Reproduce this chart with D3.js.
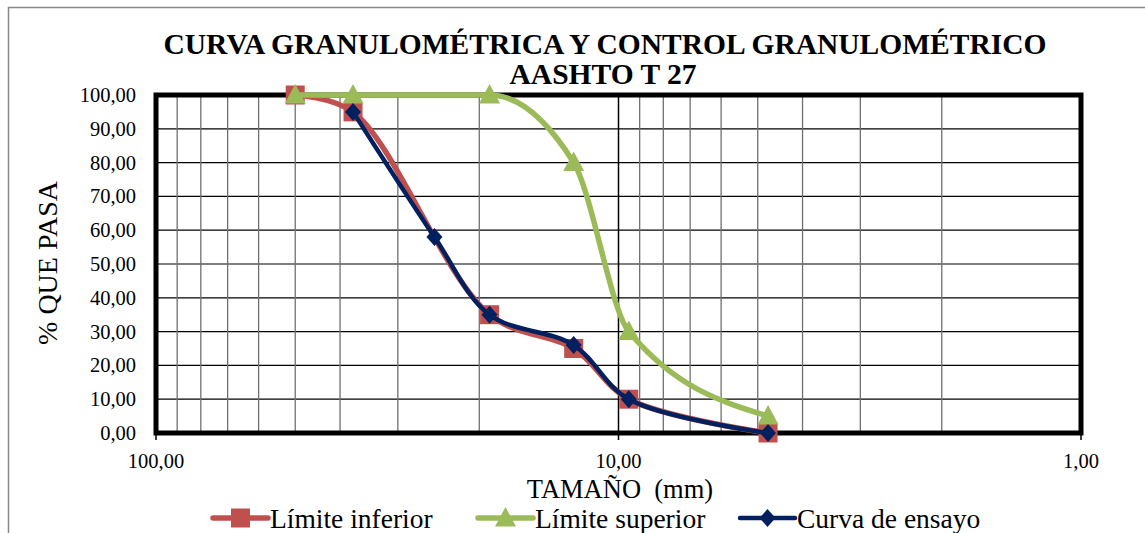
<!DOCTYPE html>
<html>
<head>
<meta charset="utf-8">
<script src="https://cdn.jsdelivr.net/npm/d3@7"></script>
<style>
  body { margin: 0; background: #fff; }
</style>
</head>
<body>
<svg id="s" width="1145" height="533"></svg>
<script>
// Data
const sizes = [50, 37.5, 25, 19, 12.5, 9.5, 4.75],
  limInferior = [100, 95, null, 35, 25, 10, 0],
  limSuperior = [100, 100, null, 100, 80, 30, 5],
  curvaEnsayo = [null, 95, 58, 35, 26, 10, 0],
  yTicks = [0, 10, 20, 30, 40, 50, 60, 70, 80, 90, 100],
  xMajor = [100, 10, 1],
  xMinor = [90, 80, 70, 60, 50, 40, 30, 20, 9, 8, 7, 6, 5, 4, 3, 2];

const FONT = "'Liberation Serif', serif";

const svg = d3.select("#s").attr("font-family", FONT),
  plot = { left: 156, right: 1081, top: 95, bottom: 433 },
  x = d3.scaleLog().domain([100, 1]).range([plot.left, plot.right]),
  y = d3.scaleLinear().domain([0, 100]).range([plot.bottom, plot.top]),
  fmt = v => d3.format(".2f")(v).replace(".", ",");

const txt = sel => sel.append("text").attr("font-family", FONT);

// marker shapes (excel style)
const sq = { draw(c) { c.moveTo(-9.5, -9.5); c.lineTo(9.5, -9.5); c.lineTo(9.5, 9.5); c.lineTo(-9.5, 9.5); c.closePath(); } },
  tri = { draw(c) { c.moveTo(0, -11); c.lineTo(10.5, 8.5); c.lineTo(-10.5, 8.5); c.closePath(); } },
  dia = { draw(c) { c.moveTo(0, -9); c.lineTo(8, 0); c.lineTo(0, 9); c.lineTo(-8, 0); c.closePath(); } };

// outer chart border (cropped on right/bottom)
svg.append("path")
  .attr("d", "M8.5,533 V7.5 H1145")
  .attr("fill", "none").attr("stroke", "#888").attr("stroke-width", 1.5);

// title
txt(svg).attr("x", 605).attr("y", 54).attr("text-anchor", "middle")
  .attr("font-size", 29.5).attr("font-weight", "bold")
  .text("CURVA GRANULOMÉTRICA Y CONTROL GRANULOMÉTRICO");
txt(svg).attr("x", 603).attr("y", 84).attr("text-anchor", "middle")
  .attr("font-size", 29.5).attr("font-weight", "bold")
  .text("AASHTO T 27");

// grid
const g = svg.append("g");
g.selectAll(".hg").data(yTicks).join("line")
  .attr("x1", plot.left).attr("x2", plot.right)
  .attr("y1", d => y(d)).attr("y2", d => y(d))
  .attr("stroke", "#000").attr("stroke-width", 1.2);
g.selectAll(".vmin").data(xMinor).join("line")
  .attr("x1", d => x(d)).attr("x2", d => x(d))
  .attr("y1", plot.top).attr("y2", plot.bottom)
  .attr("stroke", "#707070").attr("stroke-width", 1.3);
g.selectAll(".vmaj").data(xMajor).join("line")
  .attr("x1", d => x(d)).attr("x2", d => x(d))
  .attr("y1", plot.top).attr("y2", plot.bottom + 7)
  .attr("stroke", "#000").attr("stroke-width", 1.5);

// plot border
svg.append("rect")
  .attr("x", plot.left).attr("y", plot.top)
  .attr("width", plot.right - plot.left).attr("height", plot.bottom - plot.top)
  .attr("fill", "none").attr("stroke", "#000").attr("stroke-width", 5);

// axes labels
svg.selectAll(".yl").data(yTicks).join("text")
  .attr("font-family", FONT)
  .attr("x", 136).attr("y", d => y(d) + 7).attr("text-anchor", "end")
  .attr("font-size", 20.5).text(fmt);
svg.selectAll(".xl").data(xMajor).join("text")
  .attr("font-family", FONT)
  .attr("x", d => x(d)).attr("y", 468).attr("text-anchor", "middle")
  .attr("font-size", 20.5).text(fmt);

txt(svg).attr("x", 620).attr("y", 498).attr("text-anchor", "middle")
  .attr("font-size", 26.5).style("white-space", "pre").text("TAMAÑO  (mm)");
txt(svg).attr("transform", "translate(57,263) rotate(-90)")
  .attr("text-anchor", "middle").attr("font-size", 28).text("% QUE PASA");

// series
const series = [
  { name: "Límite inferior", vals: limInferior, color: "#C0504D", w: 5.5, mark: sq, curve: d3.curveCatmullRom.alpha(0.5) },
  { name: "Límite superior", vals: limSuperior, color: "#9BBB59", w: 5.5, mark: tri, curve: d3.curveMonotoneX },
  { name: "Curva de ensayo", vals: curvaEnsayo, color: "#002060", w: 4.5, mark: dia, curve: d3.curveCatmullRom.alpha(0.5) }
];

series.forEach(s => {
  const pts = sizes.map((v, i) => [v, s.vals[i]]).filter(p => p[1] != null);
  const line = d3.line().curve(s.curve).x(d => x(d[0])).y(d => y(d[1]));
  const sg = svg.append("g");
  sg.append("path").datum(pts).attr("d", line)
    .attr("fill", "none").attr("stroke", s.color).attr("stroke-width", s.w)
    .attr("stroke-linejoin", "round");
  sg.selectAll("path.m").data(pts).join("path").attr("class", "m")
    .attr("d", d3.symbol(s.mark))
    .attr("transform", d => `translate(${x(d[0])},${y(d[1])})`)
    .attr("fill", s.color);
});

// legend
const legX = [213, 478, 740];
series.forEach((s, i) => {
  const lg = svg.append("g").attr("transform", `translate(${legX[i]},518)`);
  lg.append("line").attr("x1", 0).attr("x2", 55)
    .attr("stroke", s.color).attr("stroke-width", s.w).attr("stroke-linecap", "round");
  lg.append("path").attr("d", d3.symbol(s.mark))
    .attr("transform", "translate(27.5,0)").attr("fill", s.color);
  txt(lg).attr("x", 57).attr("y", 9.5).attr("font-size", 27.5).text(s.name);
});
</script>
</body>
</html>
